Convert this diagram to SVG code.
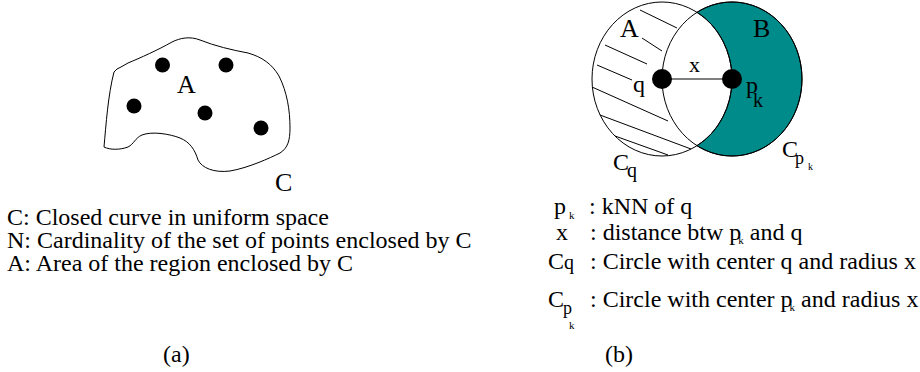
<svg xmlns="http://www.w3.org/2000/svg" width="920" height="372" viewBox="0 0 920 372">
<style>
text{font-family:"Liberation Serif","Times New Roman",serif;fill:#000}
.t{font-size:24px}
.lbl{font-size:26px}
.ln{fill:none;stroke:#000;stroke-width:1}
.dot{fill:#000}
</style>
<rect width="920" height="372" fill="#fff"/>
<g id="fig-a">
<path class="ln" d="M104,147 C106,125 108,95 114,72 L117,69 L121,67 L128,63 C140,58 158,50 172,42 C180,38 190,36 200,40 C215,46 232,50 248,53 C262,57 272,64 279,76 C287,92 290,110 290,128 C290,140 288,148 280,153 C270,158 248,168 230,171 C214,173 202,168 198,160 C195,150 190,142 180,138 C170,134 152,131 142,135 C135,138 134,144 128,147 C120,150 110,150 104,147 Z"/>
<circle class="dot" cx="162.5" cy="65" r="7.5"/>
<circle class="dot" cx="226" cy="65" r="7.5"/>
<circle class="dot" cx="134" cy="106" r="7.5"/>
<circle class="dot" cx="205" cy="113" r="7.5"/>
<circle class="dot" cx="261" cy="128" r="7.5"/>
<text class="lbl" x="177" y="93">A</text>
<text class="lbl" x="275" y="191">C</text>
<text class="t" x="7" y="225">C: Closed curve in uniform space</text>
<text class="t" x="7" y="248">N: Cardinality of the set of points enclosed by C</text>
<text class="t" x="7" y="271">A: Area of the region enclosed by C</text>
<text class="t" x="163" y="362">(a)</text>
</g>
<g id="fig-b">
<path d="M697,12.3 A70,77 0 1 1 697,145.7 A70,77 0 0 0 697,12.3 Z" fill="#008b8b" stroke="#000" stroke-width="1"/>
<ellipse class="ln" cx="662" cy="79" rx="70" ry="77"/>
<ellipse class="ln" cx="732" cy="79" rx="70" ry="77"/>
<g class="hatch" stroke="#000" stroke-width="1">
<line x1="640" y1="10" x2="677" y2="28"/>
<line x1="642" y1="38" x2="662" y2="51"/>
<line x1="605" y1="45" x2="647" y2="64"/>
<line x1="597" y1="65" x2="632" y2="80"/>
<line x1="592" y1="87" x2="668" y2="121"/>
<line x1="600" y1="115" x2="691" y2="149"/>
<line x1="615" y1="136" x2="668" y2="155"/>
</g>
<line x1="662" y1="79" x2="732" y2="79" stroke="#555" stroke-width="1.5"/>
<circle class="dot" cx="662" cy="79" r="10"/>
<circle class="dot" cx="732" cy="79" r="10"/>
<text class="lbl" x="620" y="37">A</text>
<text class="lbl" x="753" y="37">B</text>
<text x="689" y="72" font-size="22">x</text>
<text x="633" y="92" font-size="24">q</text>
<text x="746" y="93" font-size="24">p</text>
<text x="753" y="107" font-size="20">k</text>
<text x="613" y="170" font-size="24">C</text>
<text x="627" y="177" font-size="20">q</text>
<text x="782" y="157" font-size="24">C</text>
<text x="795" y="164" font-size="18">p</text>
<text x="808" y="170" font-size="10">k</text>
<text class="t" x="554" y="214">p</text>
<text x="569" y="219" font-size="11">k</text>
<text class="t" x="589" y="214">: kNN of q</text>
<text class="t" x="556" y="240">x</text>
<text class="t" x="590" y="240">: distance btw p<tspan font-size="11" dx="-3" dy="4">k</tspan><tspan dy="-4"> and q</tspan></text>
<text class="t" x="548" y="269">C</text>
<text x="564" y="269" font-size="20">q</text>
<text class="t" x="590" y="269">: Circle with center q and radius x</text>
<text class="t" x="548" y="307">C</text>
<text x="563" y="314" font-size="18">p</text>
<text x="569" y="329" font-size="11">k</text>
<text class="t" x="590" y="307">: Circle with center p<tspan font-size="11" dx="-3" dy="4">k</tspan><tspan dy="-4"> and radius x</tspan></text>
<text class="t" x="605" y="362">(b)</text>
</g>
</svg>
